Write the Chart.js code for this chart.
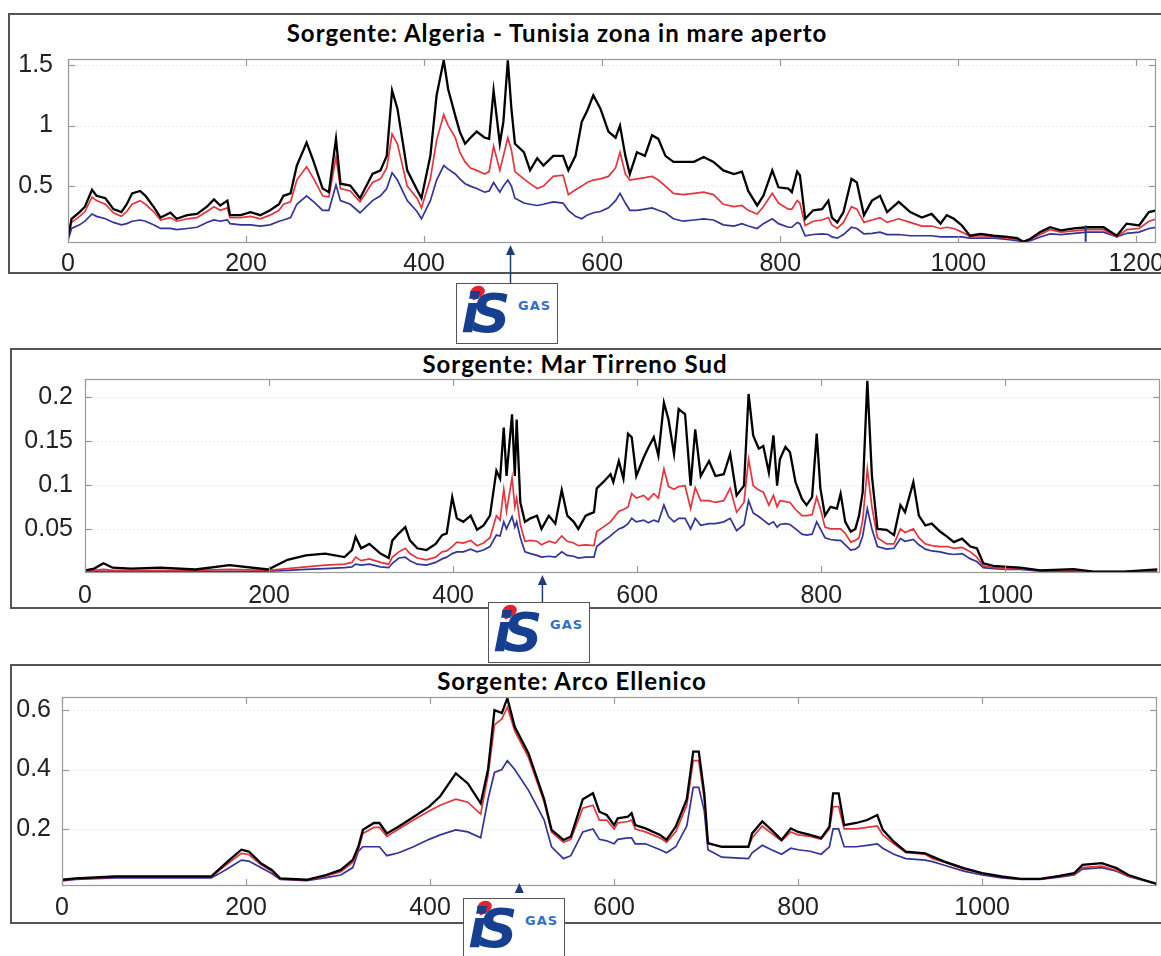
<!DOCTYPE html>
<html>
<head>
<meta charset="utf-8">
<script src="https://cdn.jsdelivr.net/npm/chart.js@4.4.1/dist/chart.umd.min.js"></script>
<style>
  body { margin: 0; background: #fff; width: 1161px; height: 956px; overflow: hidden; position: relative; }
  .box { position: absolute; border: 2px solid #555; width: 1170px; box-sizing: border-box; }
  .title { position: absolute; transform: translateX(-50%); font-family: Lato, sans-serif; font-weight: bold;
           font-size: 24px; letter-spacing: 1px; line-height: 26px; white-space: nowrap; color: #000; }
  canvas { position: absolute; left: 0; }
  .logo { position: absolute; width: 102px; height: 61px; border: 1.5px solid #555; background: #fff;
          box-sizing: border-box; overflow: hidden; }
  .logo .flame { position: absolute; left: 13px; top: 2px; width: 15px; height: 12px; background: #e3222b;
                 border-radius: 60% 60% 60% 10%; transform: rotate(-25deg); }
  .logo .is { position: absolute; left: 4px; top: 3px; font: italic 900 54px/1 'DejaVu Sans', sans-serif;
              color: #173f91; letter-spacing: -8px; }
  .logo .gas { position: absolute; left: 61px; top: 15px; font: bold 13px/1 'DejaVu Sans', sans-serif;
               color: #2f6fcf; letter-spacing: 1px; }
</style>
</head>
<body>

<div class="box" style="left:8px; top:13px; height:261px;"></div>
<div class="box" style="left:10px; top:348px; height:261px;"></div>
<div class="box" style="left:10px; top:664px; height:260px;"></div>

<div class="title" style="left:557px; top:20px;">Sorgente: Algeria - Tunisia zona in mare aperto</div>
<div class="title" style="left:575px; top:351px;">Sorgente: Mar Tirreno Sud</div>
<div class="title" style="left:572px; top:668px;">Sorgente: Arco Ellenico</div>

<canvas id="algeria" width="1161" height="240" style="top:50px"></canvas>
<canvas id="tirreno" width="1161" height="240" style="top:370px"></canvas>
<canvas id="ellenico" width="1161" height="236" style="top:688px"></canvas>

<div class="logo" style="left:456px; top:283px;"><span class="flame"></span><span class="is">iS</span><span class="gas">GAS</span></div>
<div class="logo" style="left:488px; top:602px;"><span class="flame"></span><span class="is">iS</span><span class="gas">GAS</span></div>
<div class="logo" style="left:463px; top:898px;"><span class="flame"></span><span class="is">iS</span><span class="gas">GAS</span></div>

<script>
// Sorgente: Algeria - Tunisia zona in mare aperto
const algX = [
  0, 4, 13, 19, 27, 32, 42, 51, 60, 66,
  72, 81, 87, 96, 104, 115, 122, 134, 145, 156,
  164, 171, 179, 182, 194, 205, 216, 227, 237, 242,
  250, 257, 268, 276, 286, 293, 301, 306, 317, 328,
  342, 351, 358, 364, 370, 381, 392, 397, 407, 414,
  422, 427, 435, 440, 446, 452, 459, 468, 473, 478,
  485, 489, 494, 498, 502, 512, 519, 527, 534, 545,
  556, 562, 570, 577, 583, 590, 598, 607, 615, 620,
  626, 631, 639, 648, 656, 663, 671, 680, 691, 703,
  714, 725, 736, 748, 757, 764, 774, 781, 791, 798,
  809, 813, 819, 822, 828, 837, 847, 854, 858, 864,
  871, 880, 886, 894, 903, 912, 920, 933, 946, 959,
  970, 980, 987, 995, 1004, 1013, 1025, 1040, 1055, 1066,
  1073, 1081, 1092, 1103, 1115, 1130, 1145, 1163, 1178, 1189,
  1203, 1214, 1223
];
const algBlack = [
  0.08, 0.23, 0.285, 0.33, 0.47, 0.42, 0.40, 0.31, 0.285, 0.35,
  0.44, 0.46, 0.42, 0.33, 0.24, 0.28, 0.23, 0.26, 0.27, 0.33,
  0.39, 0.34, 0.38, 0.26, 0.26, 0.285, 0.26, 0.30, 0.35, 0.42,
  0.44, 0.67, 0.86, 0.70, 0.48, 0.45, 0.89, 0.52, 0.505, 0.40,
  0.60, 0.63, 0.75, 1.29, 1.14, 0.63, 0.47, 0.40, 0.75, 1.25,
  1.54, 1.30, 1.08, 0.95, 0.85, 0.90, 0.95, 0.90, 0.89, 1.29,
  0.85, 1.03, 1.54, 1.14, 0.85, 0.78, 0.63, 0.73, 0.67, 0.75,
  0.75, 0.63, 0.75, 1.03, 1.12, 1.25, 1.14, 0.95, 0.90, 1.00,
  0.75, 0.60, 0.78, 0.75, 0.92, 0.89, 0.75, 0.70, 0.70, 0.70,
  0.74, 0.70, 0.63, 0.60, 0.62, 0.46, 0.34, 0.42, 0.63, 0.49,
  0.48, 0.45, 0.62, 0.59, 0.23, 0.30, 0.31, 0.38, 0.24, 0.20,
  0.285, 0.56, 0.53, 0.26, 0.38, 0.42, 0.285, 0.37, 0.285, 0.24,
  0.27, 0.19, 0.26, 0.23, 0.175, 0.09, 0.105, 0.09, 0.08, 0.07,
  0.04, 0.065, 0.12, 0.16, 0.135, 0.15, 0.16, 0.16, 0.09, 0.19,
  0.175, 0.285, 0.30
];
const algRed = [
  0.07, 0.20, 0.25, 0.29, 0.41, 0.38, 0.35, 0.28, 0.25, 0.29,
  0.35, 0.38, 0.35, 0.29, 0.22, 0.24, 0.21, 0.23, 0.24, 0.29,
  0.33, 0.30, 0.32, 0.24, 0.24, 0.25, 0.23, 0.26, 0.30, 0.35,
  0.37, 0.55, 0.66, 0.56, 0.42, 0.41, 0.74, 0.48, 0.46, 0.37,
  0.53, 0.56, 0.65, 0.93, 0.85, 0.50, 0.40, 0.32, 0.56, 0.88,
  1.09, 1.00, 0.90, 0.78, 0.70, 0.65, 0.63, 0.60, 0.62, 0.83,
  0.63, 0.75, 0.90, 0.80, 0.62, 0.56, 0.52, 0.48, 0.50, 0.58,
  0.59, 0.43, 0.47, 0.50, 0.53, 0.55, 0.56, 0.58, 0.65, 0.78,
  0.60, 0.55, 0.56, 0.57, 0.58, 0.55, 0.50, 0.44, 0.43, 0.44,
  0.45, 0.43, 0.35, 0.33, 0.34, 0.30, 0.27, 0.33, 0.44, 0.36,
  0.31, 0.31, 0.38, 0.36, 0.175, 0.21, 0.22, 0.24, 0.18, 0.15,
  0.20, 0.33, 0.31, 0.20, 0.22, 0.24, 0.20, 0.23, 0.20, 0.17,
  0.17, 0.15, 0.16, 0.15, 0.12, 0.085, 0.09, 0.08, 0.07, 0.06,
  0.04, 0.06, 0.10, 0.14, 0.12, 0.13, 0.14, 0.14, 0.08, 0.14,
  0.15, 0.21, 0.23
];
const algBlue = [
  0.05, 0.15, 0.18, 0.21, 0.27, 0.25, 0.23, 0.20, 0.18, 0.19,
  0.21, 0.22, 0.21, 0.18, 0.15, 0.15, 0.14, 0.15, 0.16, 0.20,
  0.22, 0.21, 0.22, 0.19, 0.18, 0.18, 0.17, 0.18, 0.21, 0.22,
  0.24, 0.35, 0.42, 0.37, 0.30, 0.30, 0.51, 0.38, 0.35, 0.28,
  0.38, 0.42, 0.48, 0.61, 0.55, 0.38, 0.29, 0.23, 0.38, 0.55,
  0.67, 0.64, 0.60, 0.56, 0.52, 0.50, 0.48, 0.45, 0.46, 0.53,
  0.45, 0.50, 0.55, 0.50, 0.40, 0.36, 0.35, 0.34, 0.35, 0.37,
  0.36, 0.30, 0.25, 0.23, 0.26, 0.28, 0.29, 0.32, 0.38, 0.44,
  0.36, 0.30, 0.30, 0.31, 0.32, 0.30, 0.28, 0.23, 0.21, 0.22,
  0.23, 0.22, 0.18, 0.17, 0.19, 0.17, 0.15, 0.19, 0.23, 0.19,
  0.16, 0.16, 0.20, 0.19, 0.09, 0.10, 0.105, 0.10, 0.08, 0.07,
  0.10, 0.16, 0.15, 0.105, 0.11, 0.12, 0.10, 0.10, 0.09, 0.09,
  0.09, 0.08, 0.08, 0.08, 0.08, 0.07, 0.07, 0.07, 0.06, 0.05,
  0.04, 0.05, 0.08, 0.105, 0.10, 0.11, 0.12, 0.12, 0.08, 0.11,
  0.12, 0.15, 0.16
];
const algXTicks = [0, 200, 400, 600, 800, 1000, 1200];
const algYTicks = [0.5, 1, 1.5];

// Sorgente: Mar Tirreno Sud
const tirX = [
  0, 10, 20, 30, 50, 82, 120, 157, 199, 220,
  240, 261, 282, 290, 294, 300, 309, 321, 330, 334,
  341, 348, 353, 361, 371, 381, 388, 393, 399, 404,
  411, 419, 426, 433, 440, 447, 451, 455, 458, 464,
  467, 469, 473, 478, 484, 491, 496, 504, 511, 518,
  524, 531, 536, 544, 553, 556, 563, 571, 574, 580,
  585, 590, 594, 599, 607, 612, 618, 623, 629, 634,
  640, 645, 652, 658, 663, 669, 678, 685, 694, 701,
  708, 716, 721, 726, 732, 737, 743, 748, 752, 755,
  761, 766, 772, 779, 784, 790, 795, 799, 804, 810,
  817, 821, 826, 832, 837, 841, 845, 850, 855, 861,
  871, 879, 886, 891, 900, 906, 913, 920, 929, 937,
  944, 953, 962, 969, 976, 987, 1002, 1016, 1038, 1074,
  1096, 1129, 1165
];
const tirBlack = [
  0.003, 0.005, 0.011, 0.006, 0.005, 0.006, 0.004, 0.009, 0.004, 0.015,
  0.020, 0.022, 0.018, 0.026, 0.041, 0.028, 0.033, 0.022, 0.017, 0.037,
  0.045, 0.052, 0.037, 0.028, 0.026, 0.033, 0.043, 0.045, 0.086, 0.062,
  0.058, 0.065, 0.049, 0.054, 0.065, 0.116, 0.107, 0.165, 0.110, 0.180,
  0.110, 0.174, 0.080, 0.058, 0.062, 0.065, 0.050, 0.065, 0.056, 0.094,
  0.065, 0.058, 0.050, 0.065, 0.069, 0.096, 0.103, 0.112, 0.103, 0.127,
  0.107, 0.158, 0.154, 0.110, 0.131, 0.142, 0.154, 0.133, 0.193, 0.174,
  0.135, 0.186, 0.180, 0.099, 0.163, 0.110, 0.127, 0.110, 0.112, 0.135,
  0.088, 0.099, 0.203, 0.156, 0.141, 0.144, 0.114, 0.156, 0.099, 0.129,
  0.143, 0.137, 0.103, 0.084, 0.077, 0.086, 0.158, 0.096, 0.065, 0.075,
  0.073, 0.090, 0.058, 0.047, 0.050, 0.065, 0.092, 0.218, 0.110, 0.050,
  0.049, 0.043, 0.077, 0.069, 0.103, 0.065, 0.054, 0.056, 0.047, 0.041,
  0.035, 0.039, 0.030, 0.028, 0.011, 0.008, 0.007, 0.006, 0.003, 0.0045,
  0.0015, 0.0015, 0.004
];
const tirRed = [
  0.002, 0.003, 0.004, 0.003, 0.003, 0.003, 0.003, 0.004, 0.003, 0.005,
  0.007, 0.009, 0.010, 0.012, 0.018, 0.014, 0.016, 0.012, 0.010, 0.018,
  0.024, 0.028, 0.022, 0.017, 0.015, 0.018, 0.024, 0.025, 0.030, 0.035,
  0.034, 0.037, 0.031, 0.034, 0.040, 0.065, 0.060, 0.095, 0.070, 0.108,
  0.075, 0.085, 0.055, 0.036, 0.037, 0.036, 0.032, 0.036, 0.034, 0.042,
  0.036, 0.034, 0.031, 0.032, 0.031, 0.047, 0.052, 0.058, 0.062, 0.070,
  0.072, 0.075, 0.090, 0.085, 0.088, 0.083, 0.090, 0.085, 0.118, 0.098,
  0.095, 0.098, 0.099, 0.073, 0.097, 0.082, 0.082, 0.080, 0.082, 0.096,
  0.069, 0.080, 0.129, 0.099, 0.094, 0.092, 0.077, 0.088, 0.075, 0.082,
  0.081, 0.080, 0.072, 0.065, 0.065, 0.066, 0.086, 0.073, 0.052, 0.050,
  0.050, 0.050, 0.045, 0.035, 0.037, 0.040, 0.060, 0.118, 0.075, 0.040,
  0.033, 0.033, 0.050, 0.046, 0.050, 0.040, 0.033, 0.031, 0.030, 0.030,
  0.028, 0.029, 0.024, 0.018, 0.008, 0.006, 0.005, 0.005, 0.003, 0.003,
  0.0015, 0.0015, 0.003
];
const tirBlue = [
  0.001, 0.002, 0.002, 0.002, 0.002, 0.002, 0.002, 0.002, 0.002, 0.003,
  0.004, 0.005, 0.006, 0.007, 0.010, 0.009, 0.010, 0.007, 0.006, 0.011,
  0.017, 0.018, 0.014, 0.010, 0.009, 0.012, 0.016, 0.018, 0.022, 0.024,
  0.024, 0.027, 0.024, 0.026, 0.030, 0.043, 0.042, 0.058, 0.050, 0.064,
  0.052, 0.058, 0.040, 0.024, 0.022, 0.020, 0.018, 0.019, 0.018, 0.024,
  0.020, 0.019, 0.017, 0.018, 0.018, 0.030, 0.036, 0.042, 0.045, 0.050,
  0.052, 0.056, 0.062, 0.058, 0.060, 0.057, 0.060, 0.058, 0.077, 0.064,
  0.058, 0.062, 0.062, 0.050, 0.062, 0.054, 0.056, 0.056, 0.058, 0.062,
  0.048, 0.055, 0.082, 0.068, 0.064, 0.060, 0.055, 0.058, 0.052, 0.055,
  0.056, 0.055, 0.050, 0.044, 0.043, 0.044, 0.058, 0.050, 0.040, 0.038,
  0.037, 0.037, 0.032, 0.026, 0.027, 0.030, 0.042, 0.073, 0.050, 0.030,
  0.027, 0.028, 0.039, 0.036, 0.038, 0.032, 0.027, 0.025, 0.024, 0.022,
  0.021, 0.022, 0.016, 0.013, 0.006, 0.005, 0.004, 0.004, 0.002, 0.002,
  0.001, 0.001, 0.002
];
const tirXTicks = [0, 200, 400, 600, 800, 1000];
const tirYTicks = [0.05, 0.1, 0.15, 0.2];

// Sorgente: Arco Ellenico
const ellX = [
  0, 15, 57, 120, 162, 170, 182, 195, 203, 216,
  228, 237, 266, 287, 303, 316, 322, 327, 339, 345,
  353, 366, 382, 399, 411, 428, 441, 455, 463, 470,
  478, 484, 492, 507, 524, 532, 545, 553, 566, 577,
  584, 592, 600, 604, 615, 619, 623, 634, 650, 657,
  667, 679, 686, 692, 698, 702, 717, 746, 750, 761,
  771, 782, 792, 800, 813, 825, 834, 838, 844, 850,
  863, 875, 886, 892, 904, 917, 938, 946, 959, 980,
  1000, 1021, 1042, 1063, 1084, 1100, 1109, 1130, 1146, 1159,
  1175, 1190
];
const ellBlack = [
  0.029, 0.034, 0.040, 0.040, 0.040, 0.062, 0.096, 0.130, 0.124, 0.085,
  0.062, 0.034, 0.029, 0.045, 0.062, 0.096, 0.140, 0.197, 0.220, 0.220,
  0.185, 0.208, 0.240, 0.275, 0.310, 0.387, 0.353, 0.286, 0.400, 0.600,
  0.590, 0.640, 0.544, 0.454, 0.300, 0.197, 0.163, 0.174, 0.300, 0.320,
  0.258, 0.247, 0.213, 0.236, 0.241, 0.253, 0.213, 0.202, 0.180, 0.163,
  0.208, 0.300, 0.460, 0.460, 0.320, 0.152, 0.140, 0.140, 0.185, 0.225,
  0.197, 0.163, 0.202, 0.190, 0.180, 0.169, 0.208, 0.320, 0.320, 0.213,
  0.220, 0.230, 0.247, 0.197, 0.157, 0.124, 0.118, 0.107, 0.090, 0.068,
  0.051, 0.040, 0.032, 0.032, 0.042, 0.051, 0.079, 0.085, 0.068, 0.045,
  0.029, 0.015
];
const ellRed = [
  0.027, 0.033, 0.038, 0.038, 0.038, 0.058, 0.088, 0.118, 0.114, 0.080,
  0.058, 0.032, 0.028, 0.042, 0.056, 0.088, 0.130, 0.185, 0.205, 0.205,
  0.175, 0.200, 0.230, 0.260, 0.280, 0.300, 0.290, 0.250, 0.380, 0.550,
  0.570, 0.610, 0.530, 0.440, 0.290, 0.190, 0.155, 0.165, 0.270, 0.280,
  0.230, 0.230, 0.200, 0.220, 0.225, 0.230, 0.200, 0.190, 0.170, 0.155,
  0.190, 0.280, 0.430, 0.430, 0.300, 0.150, 0.140, 0.140, 0.170, 0.210,
  0.185, 0.160, 0.190, 0.180, 0.175, 0.165, 0.200, 0.275, 0.275, 0.200,
  0.200, 0.205, 0.210, 0.180, 0.150, 0.120, 0.115, 0.100, 0.088, 0.065,
  0.050, 0.038, 0.031, 0.031, 0.040, 0.048, 0.070, 0.075, 0.060, 0.042,
  0.028, 0.014
];
const ellBlue = [
  0.025, 0.030, 0.035, 0.035, 0.035, 0.048, 0.070, 0.095, 0.092, 0.070,
  0.050, 0.030, 0.026, 0.036, 0.045, 0.070, 0.124, 0.140, 0.140, 0.140,
  0.110, 0.120, 0.140, 0.165, 0.180, 0.197, 0.190, 0.170, 0.300, 0.390,
  0.400, 0.430, 0.400, 0.330, 0.230, 0.140, 0.100, 0.110, 0.190, 0.200,
  0.165, 0.160, 0.150, 0.165, 0.170, 0.170, 0.150, 0.150, 0.130, 0.120,
  0.140, 0.210, 0.340, 0.340, 0.260, 0.130, 0.105, 0.100, 0.120, 0.145,
  0.130, 0.115, 0.135, 0.130, 0.125, 0.115, 0.140, 0.200, 0.200, 0.140,
  0.140, 0.145, 0.150, 0.135, 0.115, 0.100, 0.095, 0.090, 0.078, 0.058,
  0.045, 0.035, 0.030, 0.030, 0.038, 0.045, 0.065, 0.070, 0.058, 0.040,
  0.027, 0.014
];
const ellXTicks = [0, 200, 400, 600, 800, 1000];
const ellYTicks = [0.2, 0.4, 0.6];

const tickFont = { family: "'Liberation Sans', Arial, sans-serif", size: 25 };

// matlab-ish frame: box, inward ticks, dotted y grid, plus the logo arrow
const framePlugin = {
    id: 'frame',
    beforeDatasetsDraw(chart) {
        const { ctx, chartArea: a, scales: { y } } = chart;
        ctx.save();
        ctx.strokeStyle = 'rgba(0,0,0,0.14)';
        ctx.lineWidth = 1;
        ctx.setLineDash([1, 3]);
        y.ticks.forEach(t => {
            const py = Math.round(y.getPixelForValue(t.value)) + 0.5;
            ctx.beginPath(); ctx.moveTo(a.left, py); ctx.lineTo(a.right, py); ctx.stroke();
        });
        ctx.restore();
    },
    afterDatasetsDraw(chart, args, opts) {
        const { ctx, chartArea: a, scales: { x, y } } = chart;
        ctx.save();
        ctx.strokeStyle = '#9a9a9a';
        ctx.lineWidth = 1.2;
        ctx.strokeRect(a.left + 0.5, a.top + 0.5, a.width - 1, a.height - 1);
        ctx.strokeStyle = '#999';
        const seg = (x0, y0, x1, y1) => { ctx.beginPath(); ctx.moveTo(x0, y0); ctx.lineTo(x1, y1); ctx.stroke(); };
        x.ticks.forEach(t => {
            const px = Math.round(x.getPixelForValue(t.value)) + 0.5;
            seg(px, a.bottom, px, a.bottom - 7);
            seg(px, a.top, px, a.top + 7);
        });
        y.ticks.forEach(t => {
            const py = Math.round(y.getPixelForValue(t.value)) + 0.5;
            seg(a.left, py, a.left + 7, py);
            seg(a.right, py, a.right - 7, py);
        });

        if (opts.vline) {
            const vx = x.getPixelForValue(opts.vline.x);
            ctx.strokeStyle = '#1d3a8a';
            ctx.lineWidth = 2;
            seg(vx, y.getPixelForValue(opts.vline.y0), vx, y.getPixelForValue(opts.vline.y1));
        }

        if (opts.marker) {
            const mx = x.getPixelForValue(opts.marker.x);
            ctx.fillStyle = '#1f3c78';
            ctx.strokeStyle = '#1f3c78';
            ctx.lineWidth = 1.5;
            const tip = a.bottom + opts.marker.tip;
            ctx.beginPath();
            ctx.moveTo(mx, tip);
            ctx.lineTo(mx - 4.5, tip + 10);
            ctx.lineTo(mx + 4.5, tip + 10);
            ctx.closePath();
            ctx.fill();
            if (opts.marker.len) seg(mx, tip + 8, mx, a.bottom + opts.marker.len);
        }
        ctx.restore();
    }
};

function pts(xs, ys) {
    return xs.map((x, i) => ({ x: x, y: ys[i] }));
}

function makeChart(id, c) {
    new Chart(document.getElementById(id), {
        type: 'line',
        data: {
            datasets: [
                { data: pts(c.xs, c.black), borderColor: '#000', borderWidth: 2.3 },
                { data: pts(c.xs, c.red), borderColor: '#e4343c', borderWidth: 1.7 },
                { data: pts(c.xs, c.blue), borderColor: '#33339a', borderWidth: 1.7 }
            ]
        },
        options: {
            responsive: false,
            animation: false,
            layout: { padding: { top: c.padTop, right: c.padRight, left: 0, bottom: 0 } },
            elements: { point: { radius: 0 }, line: { tension: 0 } },
            plugins: {
                legend: { display: false },
                tooltip: { enabled: false },
                frame: c.frame
            },
            scales: {
                x: {
                    type: 'linear',
                    min: 0,
                    max: c.xMax,
                    grid: { display: false },
                    border: { display: false },
                    afterBuildTicks: s => { s.ticks = c.xTicks.map(v => ({ value: v })); },
                    afterFit: s => { s.height = c.xH; s.paddingLeft = 0; s.paddingRight = 0; },
                    ticks: { autoSkip: false, maxRotation: 0, padding: c.xPad, color: '#222', font: tickFont,
                             callback: v => String(v) }
                },
                y: {
                    min: c.yMin,
                    max: c.yMax,
                    grid: { display: false },
                    border: { display: false },
                    afterBuildTicks: s => { s.ticks = c.yTicks.map(v => ({ value: v })); },
                    afterFit: s => { s.width = c.yW; s.paddingTop = 0; s.paddingBottom = 0; },
                    ticks: { padding: c.yPad, color: '#222', font: tickFont, callback: v => String(v) }
                }
            }
        },
        plugins: [framePlugin]
    });
}

makeChart('algeria', {
    xs: algX, black: algBlack, red: algRed, blue: algBlue,
    xTicks: algXTicks, yTicks: algYTicks,
    xMax: 1222, yMin: 0.03, yMax: 1.55,
    padTop: 9, padRight: 5, xH: 47, yW: 68, xPad: -2, yPad: 7,
    frame: { marker: { x: 497, tip: 2, len: 40 }, vline: { x: 1143, y0: 0.04, y1: 0.175 } }
});

makeChart('tirreno', {
    xs: tirX, black: tirBlack, red: tirRed, blue: tirBlue,
    xTicks: tirXTicks, yTicks: tirYTicks,
    xMax: 1168, yMin: 0, yMax: 0.22,
    padTop: 9, padRight: 1, xH: 37, yW: 85, xPad: 0, yPad: 4,
    frame: { marker: { x: 497, tip: 2, len: 29 } }
});

makeChart('ellenico', {
    xs: ellX, black: ellBlack, red: ellRed, blue: ellBlue,
    xTicks: ellXTicks, yTicks: ellYTicks,
    xMax: 1190, yMin: 0.008, yMax: 0.644,
    padTop: 9, padRight: 4, xH: 38, yW: 62, xPad: -1, yPad: 3,
    frame: { marker: { x: 497, tip: -3 } }
});
</script>
</body>
</html>
